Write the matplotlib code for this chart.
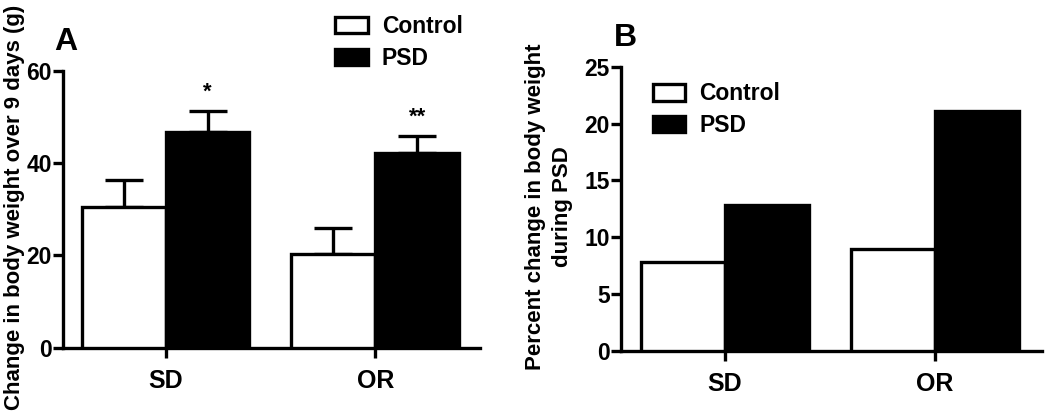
import numpy as np
import matplotlib
matplotlib.use('Agg')
import matplotlib.pyplot as plt
from matplotlib.patches import Patch

plt.rcParams['font.family'] = ['Liberation Sans', 'DejaVu Sans']
plt.rcParams['font.weight'] = 'bold'

# Data
groups = ['SD', 'OR']
series = ['Control', 'PSD']
gain_control = [30.6, 20.3]
gain_psd = [46.8, 42.3]
sem_control = [5.8, 5.7]
sem_psd = [4.5, 3.5]
stars_psd = ['*', '**']
pct_control = [7.8, 9.0]
pct_psd = [12.8, 21.1]

LW = 2.4
W = 0.4
x = np.arange(len(groups))

fig = plt.figure(figsize=(10.5, 4.18), dpi=100)
axA = fig.add_axes([63/1050, 1-347.7/418, (480-63)/1050, (347.7-71)/418])
axB = fig.add_axes([621/1050, 1-351/418, (1042-621)/1050, (351-66.7)/418])

def style(ax, ymax, step, xl):
    for s in ['top', 'right']:
        ax.spines[s].set_visible(False)
    for s in ['left', 'bottom']:
        ax.spines[s].set_linewidth(LW)
    ax.set_ylim(0, ymax)
    ax.set_yticks(np.arange(0, ymax + 0.1, step))
    ax.set_xlim(*xl)
    ax.set_xticks(x)
    ax.set_xticklabels(groups, fontsize=18, fontweight='bold')
    ax.tick_params(axis='y', length=7, width=LW, pad=1, labelsize=16.5)
    ax.tick_params(axis='x', length=7, width=LW, pad=8)

# Panel A
axA.bar(x - W/2, gain_control, W, color='white', edgecolor='black', linewidth=LW, zorder=3)
axA.bar(x + W/2, gain_psd, W, color='black', edgecolor='black', linewidth=LW, zorder=3)
axA.errorbar(x - W/2, gain_control, yerr=[np.zeros(2), sem_control], fmt='none',
             ecolor='black', elinewidth=LW, capsize=14, capthick=LW, zorder=2)
axA.errorbar(x + W/2, gain_psd, yerr=[np.zeros(2), sem_psd], fmt='none',
             ecolor='black', elinewidth=LW, capsize=14, capthick=LW, zorder=2)
for xi, m, s, st in zip(x + W/2, gain_psd, sem_psd, stars_psd):
    axA.text(xi, m + s + 4.2, st, ha='center', va='center', fontsize=16, fontweight='bold')
style(axA, 60, 20, (-0.49, 1.50))

# Panel B
axB.bar(x - W/2, pct_control, W, color='white', edgecolor='black', linewidth=LW, zorder=3)
axB.bar(x + W/2, pct_psd, W, color='black', edgecolor='black', linewidth=LW, zorder=3)
style(axB, 25, 5, (-0.495, 1.51))

handles = [Patch(facecolor='white', edgecolor='black', linewidth=LW),
           Patch(facecolor='black', edgecolor='black', linewidth=LW)]
for left, top in [(335, 15), (652.7, 82.5)]:
    fig.legend(handles, series, loc='upper left', bbox_to_anchor=(left/1050, 1-top/418),
               bbox_transform=fig.transFigure, frameon=False, fontsize=16.5,
               handlelength=1.42, handleheight=0.7, handletextpad=0.62,
               labelspacing=0.38, borderpad=0, borderaxespad=0)

fig.text(15/1050, 1-207/418, 'Change in body weight over 9 days (g)', rotation=90,
         ha='center', va='center', fontsize=16, fontweight='bold')
fig.text(549/1050, 1-207/418, 'Percent change in body weight\nduring PSD', rotation=90,
         ha='center', va='center', multialignment='center', fontsize=16,
         fontweight='bold', linespacing=1.35)
fig.text(66/1050, 1-42/418, 'A', ha='center', va='center', fontsize=23, fontweight='bold')
fig.text(625/1050, 1-38/418, 'B', ha='center', va='center', fontsize=23, fontweight='bold')

plt.savefig('out.png', dpi=100)
plt.close()
